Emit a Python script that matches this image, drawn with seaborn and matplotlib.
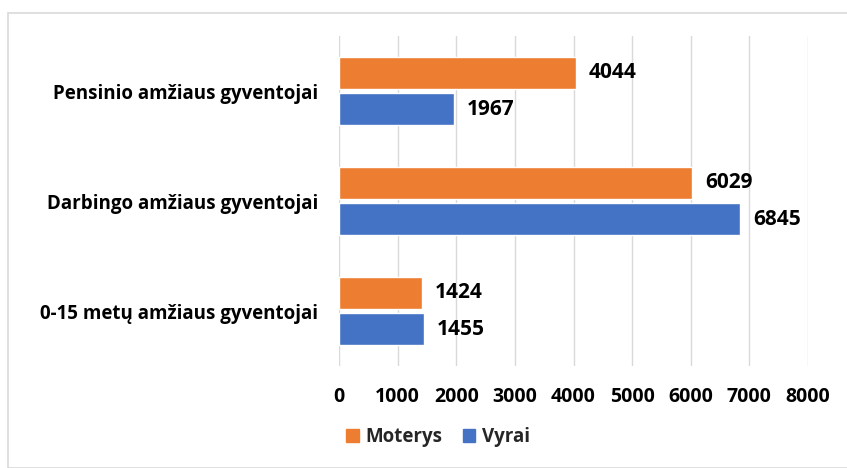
import matplotlib
matplotlib.use("Agg")
import matplotlib.pyplot as plt
import matplotlib.patches as mpatches
import pandas as pd
import seaborn as sns

categories = ["Pensinio amžiaus gyventojai", "Darbingo amžiaus gyventojai", "0-15 metų amžiaus gyventojai"]
moterys = [4044, 6029, 1424]
vyrai = [1967, 6845, 1455]
series = ["Moterys", "Vyrai"]
colors = {"Moterys": "#ED7D31", "Vyrai": "#4472C4"}
xticks = [0, 1000, 2000, 3000, 4000, 5000, 6000, 7000, 8000]

df = pd.DataFrame({
    "grupe": categories * 2,
    "lytis": ["Moterys"] * 3 + ["Vyrai"] * 3,
    "reiksme": moterys + vyrai,
})

sns.set_theme(style="white")
plt.rcParams["font.family"] = ["Open Sans", "DejaVu Sans"]
plt.rcParams["font.weight"] = "bold"

fig = plt.figure(figsize=(8.47, 4.68), dpi=100)
ax = fig.add_axes([339 / 847, 1 - 366 / 468, (808 - 339) / 847, (366 - 36) / 468])

sns.barplot(data=df, y="grupe", x="reiksme", hue="lytis", order=categories,
            hue_order=series, palette=colors, orient="h", width=0.66, gap=0.1,
            ax=ax, legend=False, saturation=1)

# value labels to the right of every bar
for cont in ax.containers:
    ax.bar_label(cont, fmt="%d", padding=9, fontsize=15, fontweight="bold", color="#000000")

ax.set_xlim(0, 8000)
ax.set_xticks(xticks)
ax.set_xticklabels([str(t) for t in xticks], fontsize=14, fontweight="bold", color="#000000")
ax.tick_params(axis="y", labelsize=13.5, length=0, pad=15, labelcolor="#000000")
ax.tick_params(axis="x", length=0, pad=15)
for lbl in ax.get_yticklabels():
    lbl.set_fontweight("bold")
ax.xaxis.grid(True, color="#D9D9D9", linewidth=1)
ax.set_axisbelow(True)
for s in ax.spines.values():
    s.set_visible(False)
ax.set_xlabel("")
ax.set_ylabel("")

handles = [mpatches.Patch(color=colors[s], label=s) for s in series]
fig.legend(handles=handles, loc="center", bbox_to_anchor=(438 / 847, 1 - 437 / 468), ncol=2,
           frameon=False, prop={"size": 13.5, "weight": "bold"}, handlelength=0.65, handleheight=0.65,
           handletextpad=0.35, columnspacing=1.1)

border = mpatches.Rectangle((8 / 847, 0), 1, 1 - 13 / 468, transform=fig.transFigure,
                            fill=False, edgecolor="#D9D9D9", linewidth=1.2)
fig.patches.append(border)

fig.savefig("out.png", dpi=100)
